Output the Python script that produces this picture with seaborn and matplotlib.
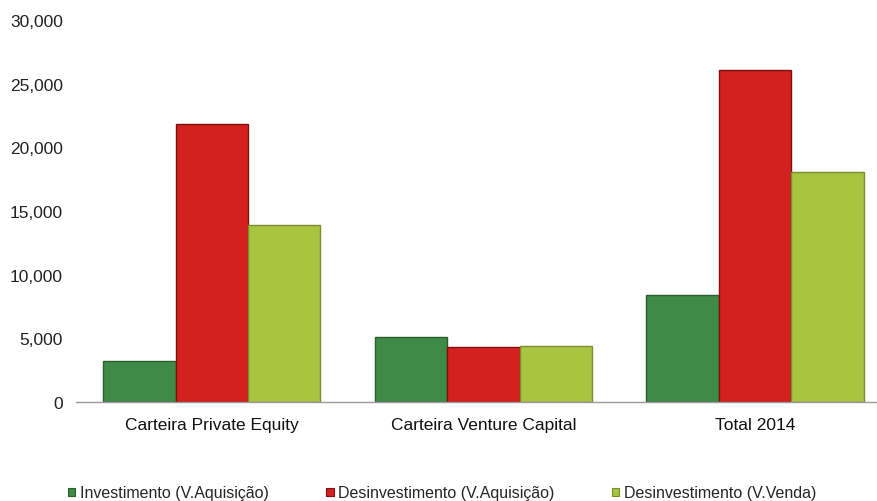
import matplotlib
matplotlib.use("Agg")
import matplotlib.pyplot as plt
import matplotlib.ticker as mticker
from matplotlib.patches import Patch
import seaborn as sns
import pandas as pd

# data
categories = ["Carteira Private Equity", "Carteira Venture Capital", "Total 2014"]
series = ["Investimento (V.Aquisição)", "Desinvestimento (V.Aquisição)", "Desinvestimento (V.Venda)"]
investimento = [3250, 5080, 8400]
desinv_aquisicao = [21800, 4300, 26100]
desinv_venda = [13900, 4380, 18100]

colors = ["#3f8a46", "#d52020", "#a9c440"]
edge_colors = ["#2a5c2e", "#7e1010", "#7d8c2c"]

df = pd.DataFrame({
    "categoria": categories * 3,
    "serie": [s for s in series for _ in categories],
    "valor": investimento + desinv_aquisicao + desinv_venda,
})

sns.set_style("white")
plt.rcParams["font.family"] = ["Liberation Sans", "DejaVu Sans"]

fig = plt.figure(figsize=(8.78, 5.02), dpi=100)
ax = fig.add_axes([76 / 878, 99 / 502, 815 / 878, 382 / 502])

sns.barplot(data=df, x="categoria", y="valor", hue="serie", order=categories,
            hue_order=series, palette=colors, width=0.8, saturation=1,
            legend=False, ax=ax)

# darker outline per series
for bars, ec in zip(ax.containers, edge_colors):
    for b in bars:
        b.set_edgecolor(ec)
        b.set_linewidth(1.0)

ax.set_ylim(0, 30000)
ax.set_xlim(-0.5, 2.5)
ax.yaxis.set_major_locator(mticker.MultipleLocator(5000))
ax.yaxis.set_major_formatter(mticker.FuncFormatter(lambda v, p: f"{int(v):,}"))
ax.set_xlabel("")
ax.set_ylabel("")

for side in ["top", "right", "left"]:
    ax.spines[side].set_visible(False)
ax.spines["bottom"].set_color("#9a9a9a")
ax.spines["bottom"].set_linewidth(1.0)

ax.tick_params(axis="y", length=0, pad=9.5, labelsize=12.5, labelcolor="#222222")
ax.tick_params(axis="x", which="major", length=0, pad=11, labelsize=12.5, labelcolor="#111111")
ax.set_xticks([0.5, 1.5], minor=True)
ax.tick_params(axis="x", which="minor", length=4, color="#9a9a9a", direction="out")

handles = [Patch(facecolor=c, edgecolor=e, linewidth=0.8) for c, e in zip(colors, edge_colors)]
fig.legend(handles, series, loc="center left", bbox_to_anchor=(68 / 878, 1 - 494 / 502),
           ncol=3, frameon=False, fontsize=11.5, handlelength=0.45, handleheight=0.45,
           handletextpad=0.3, columnspacing=3.6, borderaxespad=0, borderpad=0)

fig.savefig("out.png", dpi=100)
